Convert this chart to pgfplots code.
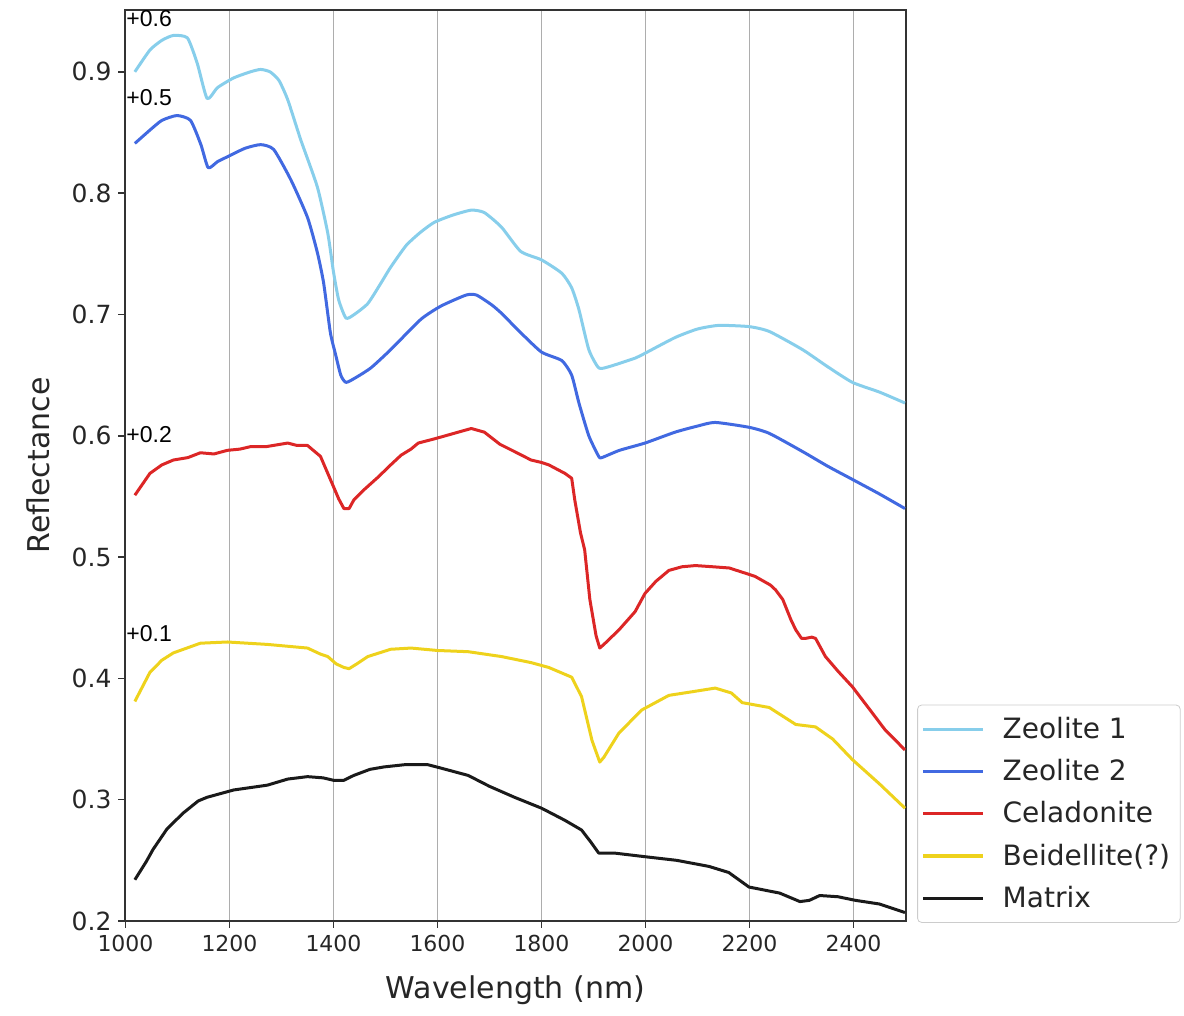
\documentclass[border=0pt]{standalone}
\usepackage{fontspec}
\setmainfont{DejaVu Sans}
\newfontfamily\arialf{Liberation Sans}
\usepackage{pgfplots}
\pgfplotsset{compat=1.18}
\definecolor{zeoA}{HTML}{87CEEB}
\definecolor{zeoB}{HTML}{4169E1}
\definecolor{cela}{HTML}{DC2626}
\definecolor{beid}{HTML}{EED21C}
\definecolor{matx}{HTML}{1A1A1A}
\begin{document}
\begin{tikzpicture}
\useasboundingbox (-62.75pt,-47.5pt) rectangle (529.25pt,460.5pt);
\begin{axis}[
  at={(0,0)}, anchor=south west,
  scale only axis, width=390pt, height=455.5pt,
  xmin=1000, xmax=2500, ymin=0.2, ymax=0.951,
  xtick={1000,1200,...,2400},
  ytick={0.2,0.3,...,0.9},
  xmajorgrids, ymajorgrids=false,
  major grid style={draw=black!32, line width=0.8pt},
  axis line style={draw=black!80, line width=1pt},
  tick style={draw=black!80, line width=0.8pt},
  tick align=outside, major tick length=3.5pt,
  xtick pos=bottom, ytick pos=left,
  /pgf/number format/assume math mode=true,
  /pgf/number format/1000 sep={},
  yticklabel style={/pgf/number format/fixed, /pgf/number format/precision=1, /pgf/number format/fixed zerofill, font=\fontsize{12.5}{14}\selectfont\color{black!85}},
  xticklabel style={font=\fontsize{11}{13}\selectfont\color{black!85}},
  xlabel={Wavelength (nm)}, ylabel={Reflectance},
  every axis x label/.style={at={(ticklabel cs:0.5)}, anchor=north, yshift=-5pt, font=\fontsize{15}{17}\selectfont\color{black!85}},
  every axis y label/.style={at={(ticklabel cs:0.5)}, anchor=south, rotate=90, yshift=4pt, font=\fontsize{15}{17}\selectfont\color{black!85}},
  legend cell align=left,
  legend style={at={(1.015,-0.002)}, anchor=south west, draw=black!20, rounded corners=2pt,
    font=\fontsize{14}{16}\selectfont\color{black!85}, row sep=5pt, inner xsep=2pt, inner ysep=4pt,
    nodes={inner xsep=3pt}},
  legend image code/.code={\draw[#1, line width=1.6pt] (-4pt,0pt) -- (26pt,0pt); \path (32pt,0pt);},
  every axis plot/.append style={line width=1.5pt, line join=round},
  clip=false,
]
\addplot[zeoA, smooth, tension=0.35] coordinates {
(1018,0.900) (1047,0.918) (1070,0.926) (1092,0.930) (1119,0.928) (1138,0.907)
(1157,0.878) (1177,0.887) (1208,0.895) (1240,0.900) (1260,0.902) (1278,0.900)
(1295,0.893) (1312,0.877) (1337,0.844) (1369,0.805) (1389,0.767) (1400,0.735)
(1410,0.712) (1424,0.697) (1440,0.700) (1466,0.709) (1490,0.725) (1510,0.739)
(1540,0.757) (1568,0.768) (1594,0.776) (1630,0.782) (1665,0.786) (1690,0.784)
(1723,0.772) (1760,0.752) (1800,0.745) (1839,0.734) (1858,0.722) (1872,0.704)
(1891,0.671) (1910,0.656) (1930,0.657) (1980,0.664) (1999,0.668) (2057,0.681)
(2100,0.688) (2141,0.691) (2199,0.690) (2238,0.686) (2302,0.671) (2350,0.657)
(2398,0.644) (2450,0.636) (2499,0.627)};
\addlegendentry{Zeolite 1}
\addplot[zeoB, smooth, tension=0.35] coordinates {
(1018,0.841) (1047,0.852) (1070,0.860) (1099,0.864) (1125,0.860) (1145,0.840)
(1159,0.821) (1177,0.826) (1196,0.830) (1230,0.837) (1260,0.840) (1285,0.836)
(1318,0.811) (1350,0.780) (1369,0.751) (1381,0.726) (1394,0.685) (1404,0.667)
(1414,0.650) (1424,0.644) (1443,0.648) (1472,0.656) (1510,0.671) (1568,0.696)
(1607,0.707) (1655,0.716) (1675,0.716) (1704,0.708) (1723,0.701) (1760,0.685)
(1800,0.669) (1839,0.662) (1858,0.650) (1872,0.627) (1891,0.600) (1910,0.583)
(1916,0.582) (1950,0.588) (1999,0.594) (2057,0.603) (2100,0.608) (2134,0.611)
(2199,0.607) (2238,0.602) (2302,0.587) (2350,0.575) (2398,0.564) (2450,0.552)
(2499,0.540)};
\addlegendentry{Zeolite 2}
\addplot[cela] coordinates {
(1018,0.551) (1047,0.569) (1070,0.576) (1092,0.580) (1120,0.582) (1144,0.586)
(1170,0.585) (1196,0.588) (1220,0.589) (1240,0.591) (1270,0.591) (1312,0.594)
(1330,0.592) (1350,0.592) (1375,0.583) (1394,0.564) (1410,0.548) (1420,0.540)
(1430,0.540) (1439,0.547) (1460,0.556) (1486,0.566) (1510,0.576) (1530,0.584)
(1549,0.589) (1563,0.594) (1590,0.597) (1607,0.599) (1640,0.603) (1665,0.606)
(1690,0.603) (1720,0.593) (1748,0.587) (1780,0.580) (1800,0.578) (1814,0.576)
(1845,0.569) (1858,0.565) (1864,0.547) (1875,0.520) (1883,0.506) (1893,0.465)
(1905,0.435) (1912,0.425) (1920,0.428) (1949,0.440) (1980,0.455) (1999,0.470)
(2020,0.480) (2045,0.489) (2070,0.492) (2096,0.493) (2130,0.492) (2161,0.491)
(2190,0.487) (2211,0.484) (2240,0.477) (2250,0.473) (2264,0.465) (2280,0.448)
(2289,0.440) (2300,0.433) (2308,0.433) (2320,0.434) (2327,0.433) (2346,0.418)
(2370,0.406) (2398,0.393) (2430,0.375) (2460,0.358) (2499,0.341)};
\addlegendentry{Celadonite}
\addplot[beid] coordinates {
(1018,0.381) (1047,0.405) (1070,0.415) (1092,0.421) (1144,0.429) (1196,0.430)
(1273,0.428) (1350,0.425) (1375,0.420) (1389,0.418) (1405,0.412) (1420,0.409)
(1430,0.408) (1445,0.412) (1466,0.418) (1510,0.424) (1549,0.425) (1600,0.423)
(1659,0.422) (1723,0.418) (1780,0.413) (1814,0.409) (1858,0.401) (1877,0.385)
(1897,0.349) (1912,0.331) (1920,0.335) (1949,0.355) (1993,0.374) (2045,0.386)
(2090,0.389) (2134,0.392) (2165,0.388) (2186,0.380) (2238,0.376) (2289,0.362)
(2327,0.360) (2360,0.350) (2398,0.333) (2450,0.313) (2499,0.293)};
\addlegendentry{Beidellite(?)}
\addplot[matx] coordinates {
(1018,0.234) (1040,0.249) (1053,0.259) (1080,0.276) (1111,0.289) (1140,0.299)
(1157,0.302) (1208,0.308) (1273,0.312) (1312,0.317) (1350,0.319) (1380,0.318)
(1400,0.316) (1420,0.316) (1439,0.320) (1470,0.325) (1497,0.327) (1540,0.329)
(1580,0.329) (1607,0.326) (1659,0.320) (1700,0.311) (1748,0.302) (1800,0.293)
(1845,0.283) (1877,0.275) (1895,0.265) (1910,0.256) (1940,0.256) (1999,0.253)
(2060,0.250) (2122,0.245) (2160,0.240) (2199,0.228) (2258,0.223) (2297,0.216)
(2315,0.217) (2335,0.221) (2370,0.220) (2404,0.217) (2450,0.214) (2499,0.207)};
\addlegendentry{Matrix}
\node[anchor=west, inner sep=0pt, font=\arialf\fontsize{11.5}{13}\selectfont] at (axis cs:1001,0.9436) {+0.6};
\node[anchor=west, inner sep=0pt, font=\arialf\fontsize{11.5}{13}\selectfont] at (axis cs:1001,0.879) {+0.5};
\node[anchor=west, inner sep=0pt, font=\arialf\fontsize{11.5}{13}\selectfont] at (axis cs:1001,0.6007) {+0.2};
\node[anchor=west, inner sep=0pt, font=\arialf\fontsize{11.5}{13}\selectfont] at (axis cs:1001,0.437) {+0.1};
\end{axis}
\end{tikzpicture}
\end{document}
